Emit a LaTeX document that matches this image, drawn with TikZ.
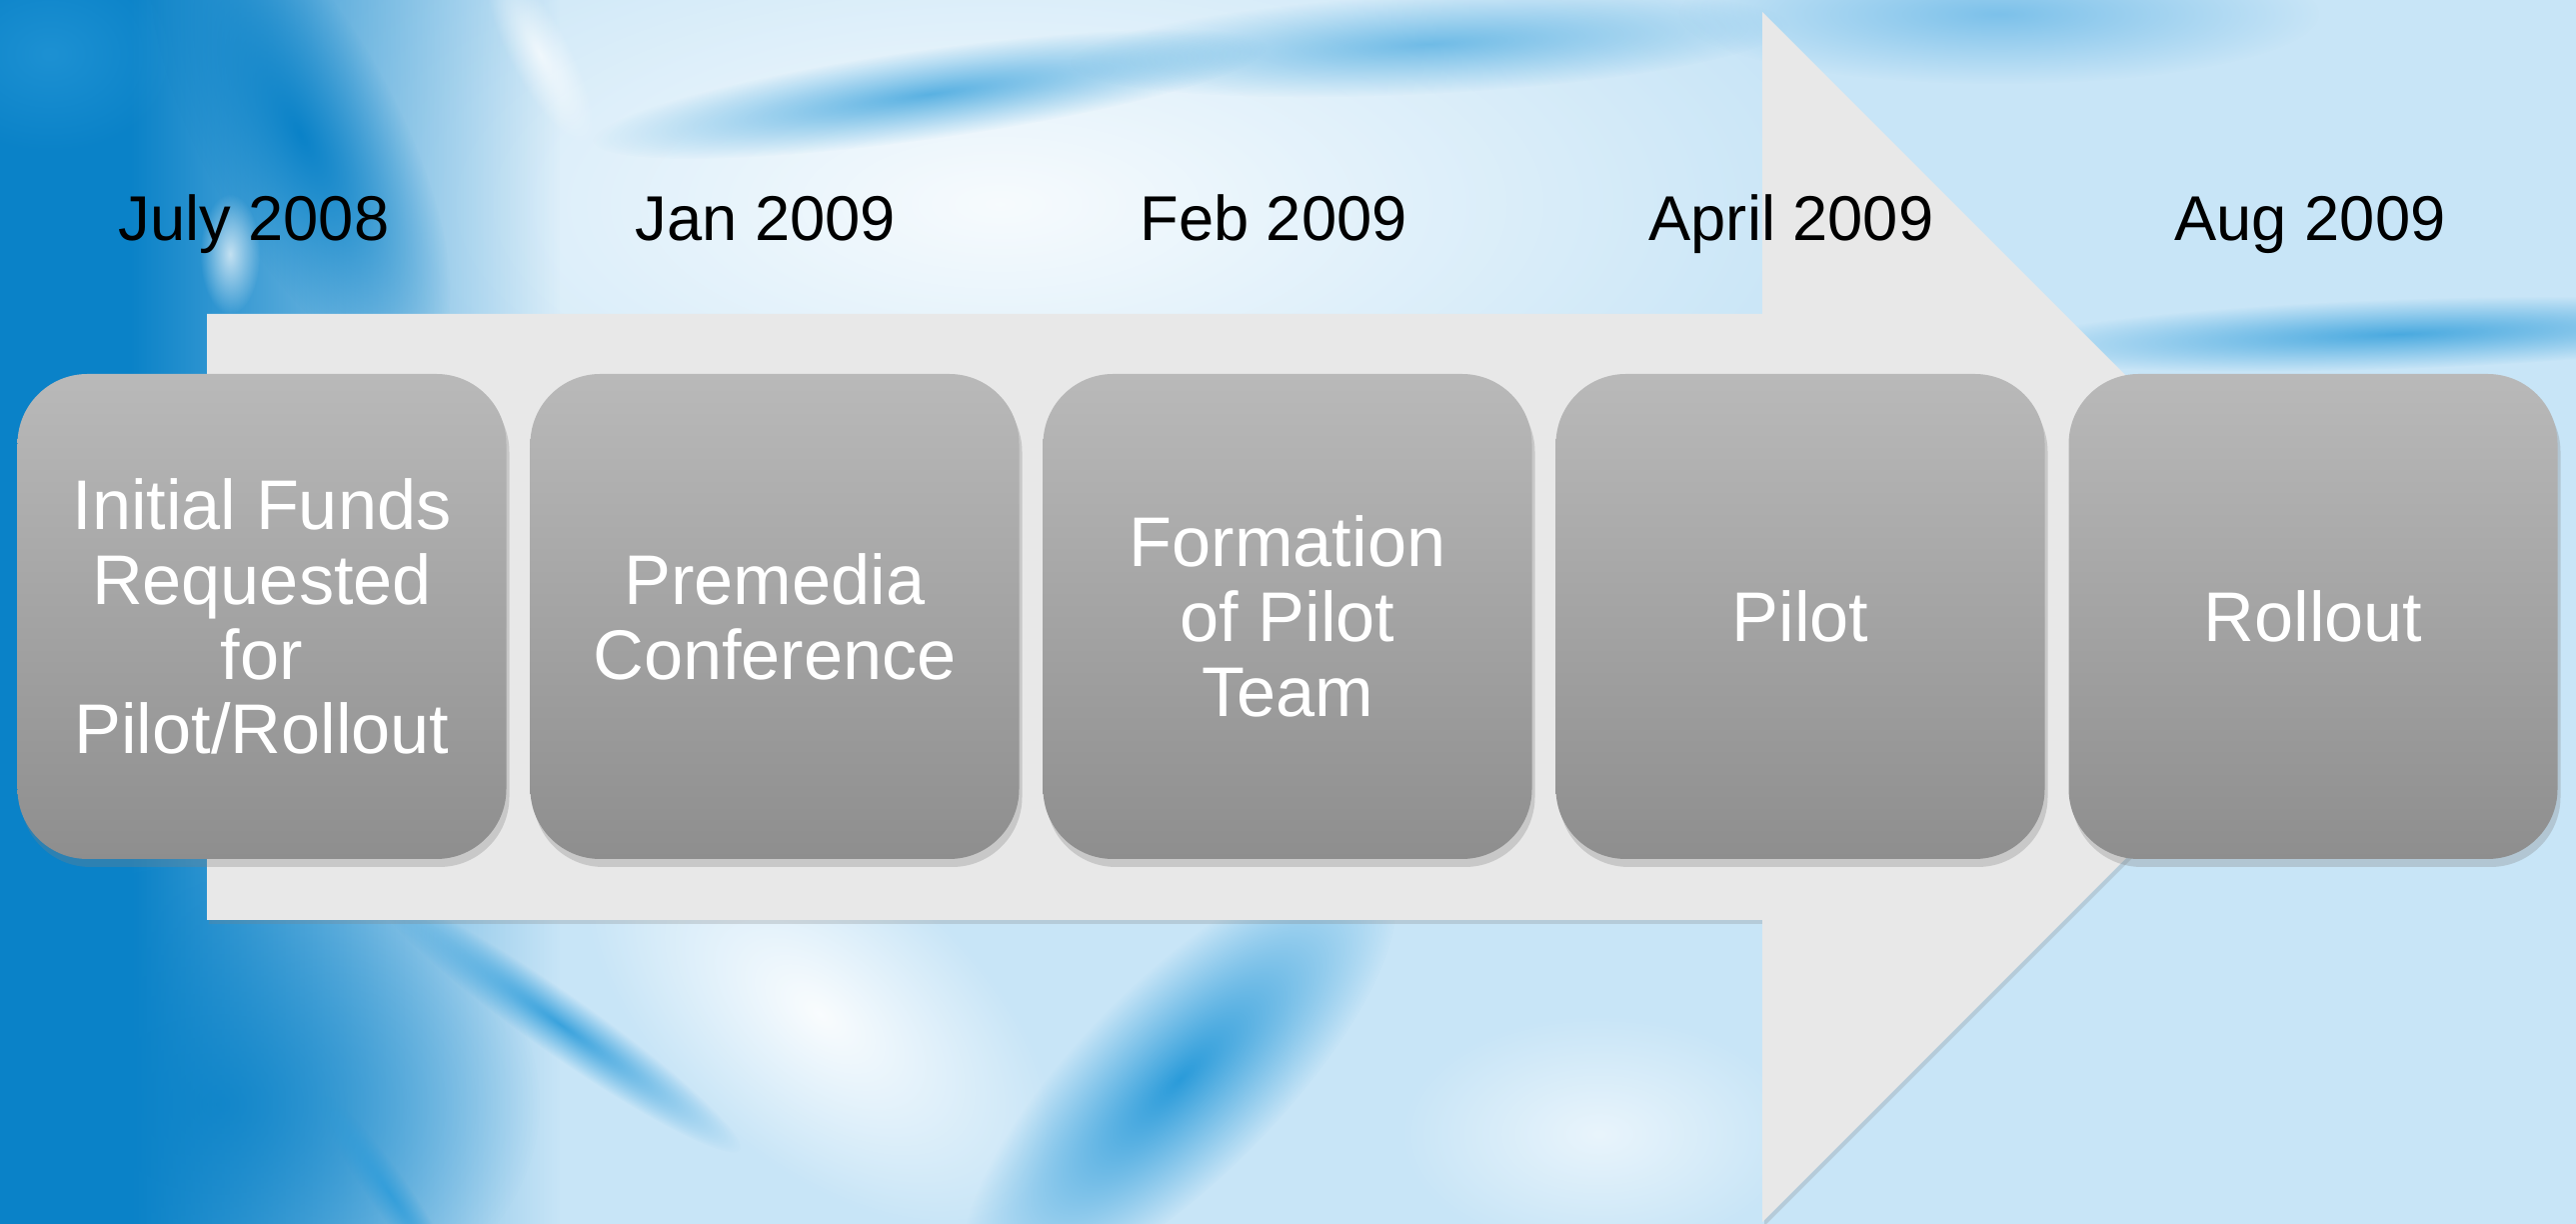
\documentclass[tikz,border=0pt]{standalone}
\usepackage{fontspec}
\setmainfont{Liberation Sans}
\usetikzlibrary{shadows,fadings}

\definecolor{bgLight}{HTML}{C8E5F7}
\definecolor{bgDeep}{HTML}{0A82C8}
\definecolor{bgMid}{HTML}{2A9BDA}
\definecolor{bgSoft}{HTML}{7CC1EA}
\definecolor{arrowGrey}{HTML}{E8E8E8}
\definecolor{boxTop}{HTML}{B9B9B9}
\definecolor{boxMid}{HTML}{ADADAD}
\definecolor{boxBot}{HTML}{8E8E8E}

\tikzfading[name=faderight, left color=transparent!0, right color=transparent!100]
\tikzfading[name=softblob, inner color=transparent!0, outer color=transparent!100]

\tikzset{
	streak/.style={path fading=softblob},
	stagebox/.style={rectangle, rounded corners=0.7cm, minimum width=4.89cm,
		minimum height=4.85cm, top color=boxTop, middle color=boxMid, bottom color=boxBot,
		text=white, align=center, font=\fontsize{20}{21.3}\selectfont,
		drop shadow={shadow xshift=0.03cm, shadow yshift=-0.08cm, opacity=0.3}},
	datelbl/.style={anchor=base, text=black, font=\fontsize{18}{20}\selectfont}
}

\begin{document}
\begin{tikzpicture}
	\useasboundingbox (0,0) rectangle (25.77,12.24);
	% background
	\begin{scope}
	\clip (0,0) rectangle (25.77,12.24);
	\fill[bgLight] (0,0) rectangle (25.77,12.24);
	\fill[white, opacity=0.85, streak] (10,10.2) ellipse (8.5 and 3.6);
	\fill[bgDeep] (0,0) rectangle (1.3,12.24);
	\fill[bgDeep, path fading=faderight] (1.3,0) rectangle (5.6,12.24);
	\fill[bgMid, opacity=0.6, streak] (0.5,11.7) ellipse (1.3 and 1);
	\fill[bgDeep, streak, transform canvas={shift={(3,10.9)},rotate=-62}] (0,0) ellipse (2.6 and 1);
	\fill[white, opacity=0.7, streak, transform canvas={shift={(5.4,11.7)},rotate=-62}] (0,0) ellipse (1 and 0.3);
	\fill[bgMid, opacity=0.75, streak, transform canvas={shift={(9.3,11.3)},rotate=8}] (0,0) ellipse (3.4 and 0.45);
	\fill[bgMid, opacity=0.6, streak, transform canvas={shift={(14.3,11.8)},rotate=3}] (0,0) ellipse (3.6 and 0.5);
	\fill[bgSoft, streak] (20,12.1) ellipse (3.2 and 0.7);
	\fill[bgMid, opacity=0.8, streak, transform canvas={shift={(24,8.9)},rotate=2}] (0,0) ellipse (4 and 0.35);
	\fill[white, opacity=0.7, streak] (2.3,9.7) ellipse (0.3 and 0.6);
	\fill[bgDeep, opacity=0.8, streak] (2.2,1.2) ellipse (3.2 and 2.4);
	\fill[white, opacity=0.9, streak, transform canvas={shift={(8.2,2.1)},rotate=-40}] (0,0) ellipse (2.8 and 1.5);
	\fill[bgMid, streak, transform canvas={shift={(11.8,1.45)},rotate=45}] (0,0) ellipse (2.9 and 1);
	\fill[white, opacity=0.6, streak] (16,0.9) ellipse (2 and 1.2);
	\fill[bgMid, opacity=0.9, streak, transform canvas={shift={(5.6,2)},rotate=-35}] (0,0) ellipse (2.2 and 0.3);
	\fill[bgMid, opacity=0.8, streak, transform canvas={shift={(3.9,0.3)},rotate=-55}] (0,0) ellipse (1.2 and 0.2);
	\end{scope}

	% big arrow
	\fill[arrowGrey, drop shadow={shadow xshift=0.02cm, shadow yshift=-0.04cm, opacity=0.25}]
		(2.07,9.10) -- (17.63,9.10) -- (17.63,12.12) -- (23.68,6.07)
		-- (17.63,0.02) -- (17.63,3.04) -- (2.07,3.04) -- cycle;

	% stages
	\node[stagebox] (s1) at (2.62,6.075) {Initial Funds\\Requested\\for\\Pilot/Rollout};
	\node[stagebox] (s2) at (7.75,6.075) {Premedia\\Conference};
	\node[stagebox] (s3) at (12.88,6.075) {Formation\\of Pilot\\Team};
	\node[stagebox] (s4) at (18.01,6.075) {Pilot};
	\node[stagebox] (s5) at (23.14,6.075) {Rollout};

	% dates
	\node[datelbl] (d1) at (2.54,9.83) {July 2008};
	\node[datelbl] (d2) at (7.66,9.83) {Jan 2009};
	\node[datelbl] (d3) at (12.74,9.83) {Feb 2009};
	\node[datelbl] (d4) at (17.92,9.83) {April 2009};
	\node[datelbl] (d5) at (23.11,9.83) {Aug 2009};
\end{tikzpicture}
\end{document}
